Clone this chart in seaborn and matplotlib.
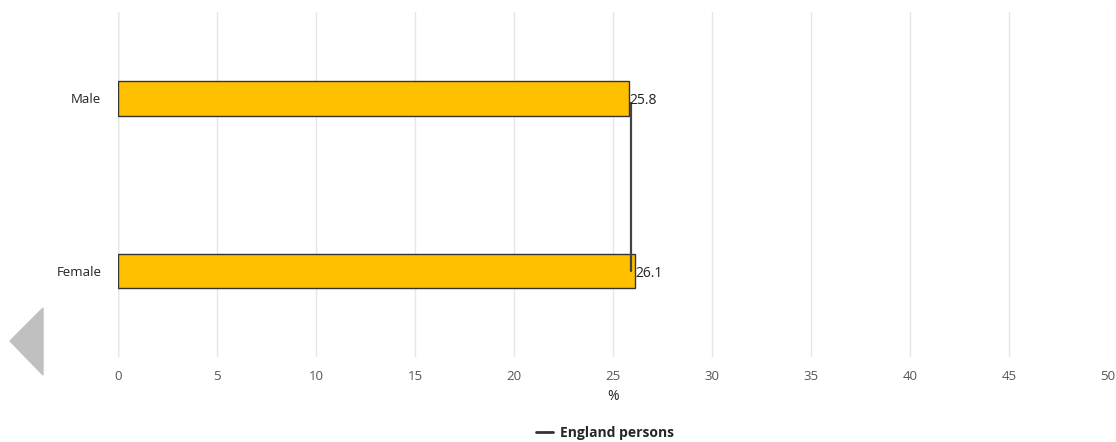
import matplotlib
matplotlib.use("Agg")
import matplotlib.pyplot as plt
from matplotlib.patches import Polygon
from matplotlib.lines import Line2D
import seaborn as sns
import pandas as pd

# Donnees
sexes = ["Male", "Female"]
valeurs = [25.8, 26.1]
england_persons = 25.9
x_ticks = [0, 5, 10, 15, 20, 25, 30, 35, 40, 45, 50]

df = pd.DataFrame({"sexe": sexes, "valeur": valeurs})

sns.set_theme(style="white")
plt.rcParams["font.family"] = ["Open Sans", "DejaVu Sans"]

W, H = 1116, 442
fig = plt.figure(figsize=(W / 100, H / 100), dpi=100)
ax = fig.add_axes([118 / W, 1 - 357 / H, 990 / W, 345 / H])

sns.barplot(data=df, x="valeur", y="sexe", orient="h", color="#FFC000",
            width=0.2, edgecolor="#333333", linewidth=1, saturation=1, ax=ax)

# ligne de reference England persons
ax.plot([england_persons, england_persons], [0.03, 1], color="#444444", lw=1.6, zorder=4)

for i, v in enumerate(valeurs):
    ax.text(v + 0.05, i + 0.015, f"{v}", va="center", ha="left", fontsize=10, color="#222222", zorder=5)

ax.set_xlim(0, 50)
ax.set_ylim(1.5, -0.5)
ax.set_xticks(x_ticks)
ax.set_xticklabels([str(t) for t in x_ticks], fontsize=9.5, color="#555555")
ax.tick_params(axis="y", labelsize=9.5, colors="#222222", length=0, pad=12)
ax.tick_params(axis="x", length=0, pad=9)
ax.grid(axis="x", color="#e6e6e6", lw=1)
ax.set_axisbelow(True)
for s in ax.spines.values():
    s.set_visible(False)
ax.axvline(0, color="#ccd6eb", lw=1, zorder=0)
ax.set_ylabel("")
ax.set_xlabel("%", fontsize=10, color="#222222", labelpad=5)

handle = Line2D([0], [0], color="#333333", lw=2)
leg = fig.legend([handle], ["England persons"], loc="center", bbox_to_anchor=(605 / W, 1 - 433 / H),
                 frameon=False, handlelength=1.2, handletextpad=0.5, prop={"size": 10, "weight": "bold"})

# fleche de navigation grise a gauche
tri = Polygon([(10 / W, 1 - 341 / H), (43 / W, 1 - 308 / H), (43 / W, 1 - 375 / H)],
              closed=True, transform=fig.transFigure, color="#c0c0c0")
fig.patches.append(tri)

fig.savefig("out.png", dpi=100)
